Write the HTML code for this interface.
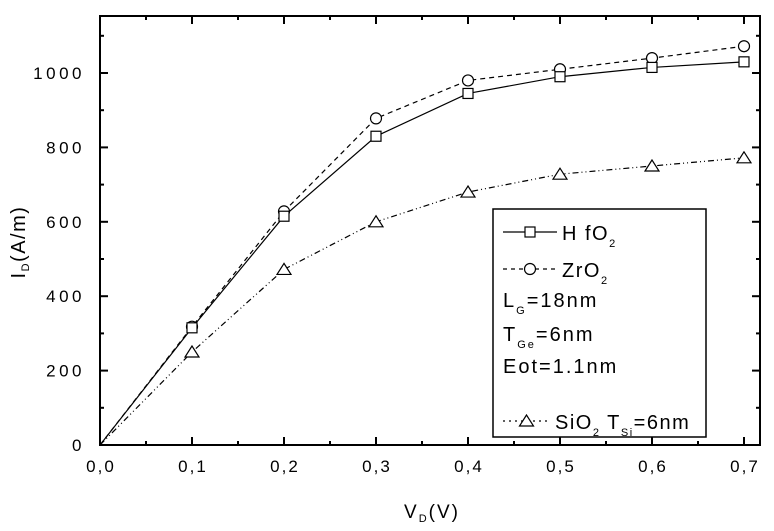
<!DOCTYPE html>
<html><head><meta charset="utf-8"><style>
body{margin:0;background:#fff;}
svg{display:block;font-family:"Liberation Sans",Arial,sans-serif;}
</style></head><body>
<svg id="chart" width="774" height="531" viewBox="0 0 774 531"></svg>
<script>
const xValues=[0,0.1,0.2,0.3,0.4,0.5,0.6,0.7];
const hfo2=[0,315,615,830,945,990,1015,1030];
const zro2=[0,318,628,878,980,1010,1040,1072];
const sio2=[0,250,472,600,680,728,750,772];
const xTicks=[0,0.1,0.2,0.3,0.4,0.5,0.6,0.7];
const xTickLabels=["0,0","0,1","0,2","0,3","0,4","0,5","0,6","0,7"];
const yTicks=[0,200,400,600,800,1000];

const L=100,R=760,T=16,B=445;
const X=v=>100+v*920;
const Y=v=>445-v*0.372;
const svg=document.getElementById('chart');
const NS='http://www.w3.org/2000/svg';
function mk(tag,attrs,parent){const e=document.createElementNS(NS,tag);for(const k in attrs)e.setAttribute(k,attrs[k]);(parent||svg).appendChild(e);return e;}

const frame=mk('rect',{x:L,y:T,width:R-L,height:B-T,fill:'none',stroke:'#000','stroke-width':2});



for(let i=0;i<=14;i++){const v=i*0.05;const x=X(v);const len=i%2===0?8:4;
 mk('line',{x1:x,y1:B,x2:x,y2:B-len,stroke:'#000','stroke-width':2});
 mk('line',{x1:x,y1:T,x2:x,y2:T+len,stroke:'#000','stroke-width':2});}
xTicks.forEach((v,i)=>{const t=mk('text',{x:X(v)+1,y:B+27,'text-anchor':'middle','font-size':17,'letter-spacing':2});t.textContent=xTickLabels[i];
 
 });
for(let v=0;v<=1100;v+=100){const y=Y(v);const len=v%200===0?8:4;
 mk('line',{x1:L,y1:y,x2:L+len,y2:y,stroke:'#000','stroke-width':2});
 mk('line',{x1:R,y1:y,x2:R-len,y2:y,stroke:'#000','stroke-width':2});}
yTicks.forEach(v=>{const t=mk('text',{x:L-15,y:Y(v)+6,'text-anchor':'end','font-size':17,'letter-spacing':3.5});t.textContent=v;
 
 });

const xt=mk('text',{x:432,y:518,'text-anchor':'middle','font-size':19,'letter-spacing':2});
xt.innerHTML='V<tspan font-size="11" dy="4">D</tspan><tspan dy="-4">(V)</tspan>';


const yt=mk('text',{transform:'translate(25,242) rotate(-90)','text-anchor':'middle','font-size':20,'letter-spacing':1.5});
yt.innerHTML='I<tspan font-size="11" dy="4">D</tspan><tspan dy="-4">(A/m)</tspan>';



function marker(kind,x,y,g){
 if(kind==='sq')return mk('rect',{x:x-5,y:y-5,width:10,height:10,fill:'#fff',stroke:'#000','stroke-width':1.2},g);
 if(kind==='ci')return mk('circle',{cx:x,cy:y,r:5.5,fill:'#fff',stroke:'#000','stroke-width':1.2},g);
 return mk('polygon',{points:`${x},${y-6} ${x-7},${y+5} ${x+7},${y+5}`,fill:'#fff',stroke:'#000','stroke-width':1.2},g);
}
function series(vals,dash,kind,name){
 const g=mk('g',{});
 
 
 const pts=xValues.map((v,i)=>X(v)+','+Y(vals[i])).join(' ');
 mk('polyline',{points:pts,fill:'none',stroke:'#000','stroke-width':1.2,'stroke-dasharray':dash},g);
 xValues.forEach((v,i)=>{if(i===0)return;const m=marker(kind,X(v),Y(vals[i]),g);
  
  });
}
series(sio2,'6,3,1,3,1,3','tr','series-sio2');
series(zro2,'5,4','ci','series-zro2');
series(hfo2,'none','sq','series-hfo2');

const lg=mk('g',{});


mk('rect',{x:493,y:209,width:213,height:228,fill:'#fff',stroke:'#000','stroke-width':1.5},lg);
function entry(y,dash,kind,html,x2){
 mk('line',{x1:503,y1:y,x2:x2,y2:y,stroke:'#000','stroke-width':1.2,'stroke-dasharray':dash},lg);
 marker(kind,(503+x2)/2,y,lg);
 const t=mk('text',{x:x2+5,y:y+8,'font-size':20,'letter-spacing':1.5},lg);t.innerHTML=html;
 
 
}
entry(232,'none','sq','H fO<tspan font-size="11" dy="7">2</tspan>',557);
entry(269,'4,4','ci','ZrO<tspan font-size="11" dy="7">2</tspan>',557);
entry(421,'2,4','tr','SiO<tspan font-size="11" dy="7">2</tspan><tspan dy="-7"> T</tspan><tspan font-size="11" dy="7">Si</tspan><tspan dy="-7">=6nm</tspan>',550);
const texts=[[307,'L<tspan font-size="11" dy="7">G</tspan><tspan dy="-7">=18nm</tspan>'],[341,'T<tspan font-size="11" dy="7">Ge</tspan><tspan dy="-7">=6nm</tspan>'],[373,'Eot=1.1nm']];
texts.forEach(([y,h])=>{const t=mk('text',{x:503,y:y,'font-size':20,'letter-spacing':2},lg);t.innerHTML=h;
 
 });
</script>
</body></html>
